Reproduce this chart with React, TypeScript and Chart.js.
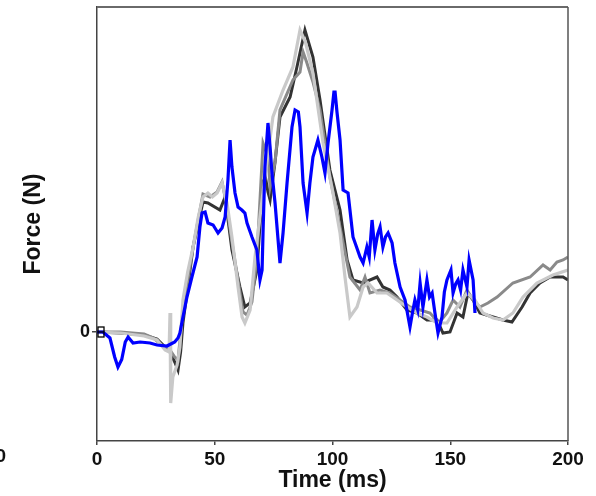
import React, { useEffect, useRef } from "react";
import { Chart, registerables } from "chart.js";

Chart.register(...registerables);

// Time (ms) and Force (N) for each trace
const blueTime = [0, 2.5, 5.5, 7.5, 8.9, 10.5, 12, 13.2, 15.3, 18.3, 22.5, 25.5, 29.7, 33, 34.4, 35.2, 36.5, 38.2, 40.3, 42.5, 43.7, 44.6, 45.9, 47.1, 49.3, 51.4, 53.1, 54.4, 55.6, 56.5, 57.3, 58.6, 59.9, 61.5, 62.8, 63.7, 65.8, 67.9, 69.2, 70.1, 70.5, 71.3, 72.6, 73.5, 74.3, 75.6, 77.7, 79.0, 80.7, 82.8, 84.1, 85.5, 86.2, 87.5, 89.2, 90.4, 91.7, 93.8, 95.5, 96.8, 98.1, 99.8, 100.6, 101.1, 101.9, 103.2, 104.5, 106.6, 108.7, 110.2, 111.7, 113.0, 114.6, 115.6, 116.8, 118.0, 119.2, 120.2, 121.4, 122.5, 123.6, 125.3, 126.5, 128.7, 130.8, 132.9, 134.0, 135.0, 136.2, 137.2, 138.4, 140.1, 141.2, 142.3, 143.5, 144.8, 146.5, 147.5, 148.6, 150.3, 151.2, 152.3, 153.3, 154.4, 155.4, 157.1, 158.0, 159.7, 160.5];
const blueForce = [0, 0, -12, -50, -70, -55, -20, -10, -22, -20, -22, -26, -28, -20, -12, -2, 30, 70, 110, 150, 210, 238, 240, 218, 214, 198, 208, 230, 304, 384, 330, 278, 250, 244, 238, 218, 190, 164, 104, 124, 198, 330, 418, 370, 318, 258, 138, 198, 298, 410, 444, 440, 410, 298, 238, 298, 350, 384, 350, 318, 378, 444, 480, 480, 440, 384, 284, 278, 190, 170, 150, 138, 170, 150, 224, 164, 196, 210, 170, 190, 198, 178, 138, 90, 64, 10, 40, 64, 44, 98, 50, 104, 70, 78, 38, -2, 30, 80, 104, 124, 78, 96, 104, 84, 124, 90, 144, 104, 38];

const lightTime = [0, 10, 20, 25.5, 28.9, 30.6, 31.0, 31.3, 32.2, 34.0, 35.2, 36.5, 38.5, 40.8, 43, 45.0, 47.1, 49, 51.0, 53.1, 55.2, 57.3, 59.9, 61.6, 62.8, 65.0, 67.1, 69.2, 71.3, 74.7, 79.0, 83.2, 86.2, 88.5, 91.7, 96.0, 100.2, 103.2, 105.3, 107.4, 110.4, 113, 115.1, 118.9, 123.1, 127.4, 131.6, 135.9, 140.1, 144.4, 148.6, 152.9, 157.1, 160.5, 163.9, 168.2, 172.4, 176.6, 180.9, 186.8, 193.6, 200];
const lightForce = [0, -2, -8, -16, -36, -40, 38, -142, -90, -66, -30, 64, 120, 170, 230, 270, 278, 270, 278, 298, 258, 190, 90, 30, 18, 44, 150, 230, 310, 430, 484, 530, 604, 580, 518, 378, 278, 198, 110, 30, 50, 90, 98, 78, 78, 64, 50, 38, 30, 18, 18, 50, 78, 64, 38, 28, 24, 38, 70, 98, 114, 124];

const midTime = [0, 10, 20, 24, 28.9, 31, 33, 34.4, 36.5, 40.8, 45, 48, 51, 53.1, 55.2, 57.3, 60, 62, 63.7, 65.8, 67.9, 70.5, 72.6, 73.5, 75.6, 77.7, 83.2, 86.2, 87.5, 89, 91.7, 94.7, 98.9, 103.2, 107.4, 111.7, 113.8, 115.9, 120.2, 124.4, 128.7, 132.9, 137.2, 141.4, 145.2, 148.6, 151.2, 154.1, 157.1, 159.7, 162.6, 166, 169.9, 176.6, 183.9, 189.4, 192.4, 195.3, 197.9, 200];
const midForce = [0, 0, -4, -12, -32, -36, -50, -56, 44, 170, 276, 270, 280, 300, 250, 180, 100, 40, 34, 60, 150, 378, 350, 290, 340, 444, 504, 520, 560, 540, 500, 444, 310, 210, 110, 84, 110, 78, 84, 78, 64, 50, 44, 38, 18, 38, 64, 50, 84, 64, 50, 58, 70, 98, 110, 134, 124, 140, 144, 150];

const darkTime = [0, 10, 20, 25.5, 28.9, 31, 33, 34.4, 35.5, 36.5, 40.8, 45.0, 47.1, 52.2, 54.4, 57.3, 60.7, 62.8, 65.0, 67.9, 70.5, 71.5, 72.6, 73.5, 75.6, 77.7, 82.0, 84.9, 88.3, 91.7, 94.7, 98.9, 103.2, 106.2, 108.7, 113, 118.9, 121.4, 124.4, 127.4, 131.6, 135.9, 140.1, 144.4, 146.9, 149.9, 152.9, 155.4, 157.5, 159.7, 162.6, 168.2, 172.4, 176.2, 180.5, 183.9, 188.1, 192.4, 197.9, 200];
const darkForce = [0, -2, -6, -14, -30, -40, -60, -76, -40, 18, 170, 260, 258, 244, 270, 164, 90, 50, 58, 124, 300, 310, 280, 264, 340, 430, 470, 530, 604, 550, 464, 324, 244, 144, 104, 98, 110, 90, 84, 70, 44, 38, 24, 24, -2, 0, 38, 30, 78, 64, 38, 30, 24, 20, 50, 78, 98, 110, 110, 104];

const markerTime = [1.7];
const markerForce = [0];

const xTickValues = [0, 50, 100, 150, 200];
const yTickValues = [0];
const clippedNeighbourLabel = "200";

const pts = (t: number[], f: number[]) => t.map((x, i) => ({ x, y: f[i] }));

const FONT = "'Liberation Sans', Arial, sans-serif";

const framePlugin = {
  id: "frame",
  afterDraw(chart: any) {
    const { ctx, chartArea } = chart;
    ctx.save();
    ctx.strokeStyle = "#6a6a6a";
    ctx.lineWidth = 2;
    ctx.beginPath();
    ctx.moveTo(chartArea.left, chartArea.top);
    ctx.lineTo(chartArea.right, chartArea.top);
    ctx.stroke();
    ctx.strokeStyle = "#555";
    ctx.lineWidth = 1.5;
    ctx.beginPath();
    ctx.moveTo(chartArea.right, chartArea.top);
    ctx.lineTo(chartArea.right, chartArea.bottom);
    ctx.stroke();
    // clipped label from a neighbouring panel at the far left
    ctx.fillStyle = "#111";
    ctx.font = "bold 19px " + FONT;
    ctx.textAlign = "right";
    ctx.textBaseline = "middle";
    ctx.fillText(clippedNeighbourLabel, 6, 457);
    ctx.restore();
  },
};

function makeMarker() {
  const c = document.createElement("canvas");
  c.width = 8;
  c.height = 12;
  const g = c.getContext("2d")!;
  g.strokeStyle = "#000";
  g.lineWidth = 1.3;
  g.strokeRect(1, 1, 6, 10);
  g.beginPath();
  g.moveTo(1, 6);
  g.lineTo(7, 6);
  g.stroke();
  return c;
}

export default function App() {
  const ref = useRef<HTMLCanvasElement>(null);
  useEffect(() => {
    if (!ref.current) return;
    const chart = new Chart(ref.current, {
      type: "line",
      data: {
        datasets: [
          {
            data: pts(markerTime, markerForce),
            showLine: false,
            pointStyle: makeMarker(),
            pointRadius: 5,
          },
          { data: pts(blueTime, blueForce), borderColor: "#0000ff", borderWidth: 3.2, pointRadius: 0, tension: 0 },
          { data: pts(lightTime, lightForce), borderColor: "#c9c9c9", borderWidth: 3.2, pointRadius: 0, tension: 0 },
          { data: pts(midTime, midForce), borderColor: "#8a8a8a", borderWidth: 3, pointRadius: 0, tension: 0 },
          { data: pts(darkTime, darkForce), borderColor: "#333333", borderWidth: 3, pointRadius: 0, tension: 0 },
        ],
      },
      options: {
        animation: false,
        responsive: false,
        events: [],
        layout: { padding: { top: 7, right: 28, left: 0, bottom: 0 } },
        plugins: { legend: { display: false }, tooltip: { enabled: false } },
        scales: {
          x: {
            type: "linear",
            min: 0,
            max: 200,
            afterBuildTicks: (axis: any) => {
              axis.ticks = xTickValues.map((v) => ({ value: v }));
            },
            afterFit: (axis: any) => {
              axis.height = 55;
              axis.paddingLeft = 0;
              axis.paddingRight = 0;
            },
            grid: { display: true, drawOnChartArea: false, drawTicks: true, tickLength: 4, color: "#444", lineWidth: 1.5 },
            border: { display: true, color: "#444", width: 1.5 },
            ticks: { color: "#111", padding: 3, maxRotation: 0, font: { family: FONT, size: 19, weight: "bold" } },
            title: { display: true, text: "Time (ms)", color: "#111", padding: { top: 0, bottom: 2 }, font: { family: FONT, size: 23, weight: "bold" } },
          },
          y: {
            type: "linear",
            min: -218,
            max: 650,
            afterBuildTicks: (axis: any) => {
              axis.ticks = yTickValues.map((v) => ({ value: v }));
            },
            afterFit: (axis: any) => {
              axis.width = 97;
              axis.paddingTop = 0;
              axis.paddingBottom = 0;
            },
            grid: { display: true, drawOnChartArea: false, drawTicks: true, tickLength: 5, color: "#444", lineWidth: 1.5 },
            border: { display: true, color: "#444", width: 1.5 },
            ticks: { color: "#111", padding: 2, font: { family: FONT, size: 18, weight: "bold" } },
            title: { display: true, text: "Force (N)", color: "#111", padding: { top: 20, bottom: 0 }, font: { family: FONT, size: 23, weight: "bold" } },
          },
        },
      },
      plugins: [framePlugin],
    } as any);
    return () => chart.destroy();
  }, []);
  return (
    <div style={{ position: "fixed", left: 0, top: 0, width: 596, height: 496, background: "#fff" }}>
      <canvas ref={ref} width={596} height={496} style={{ width: 596, height: 496 }} />
    </div>
  );
}
